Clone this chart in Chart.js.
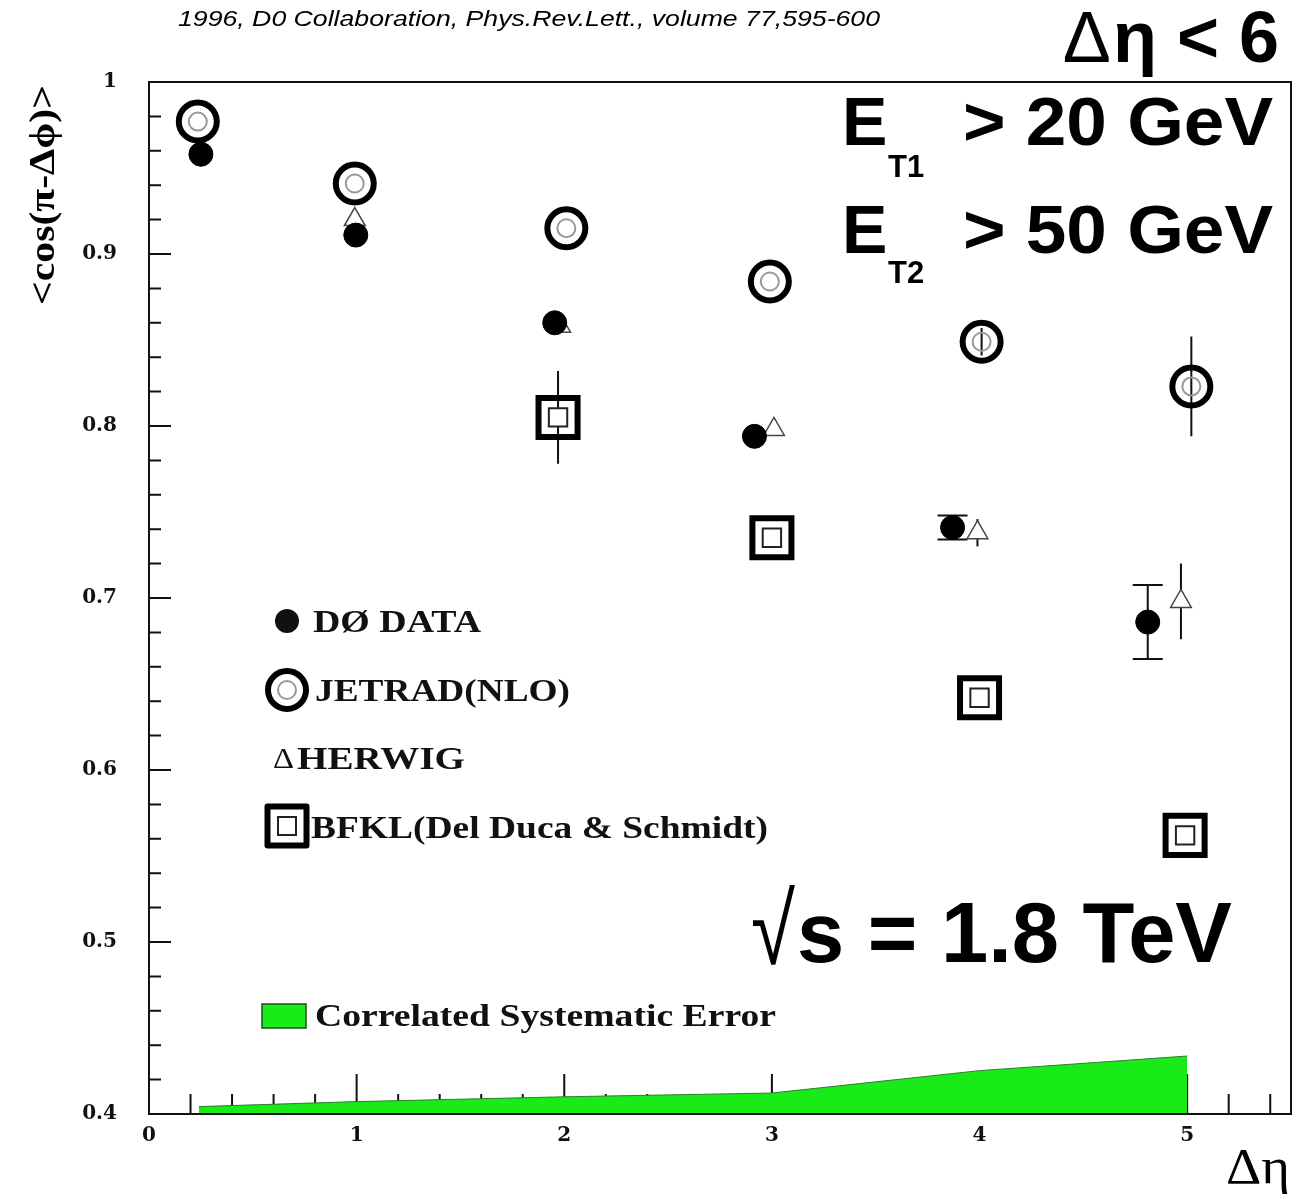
<!DOCTYPE html>
<html>
<head>
<meta charset="utf-8">
<script src="https://cdn.jsdelivr.net/npm/chart.js@4.4.0/dist/chart.umd.min.js"></script>
<style>
html, body { margin: 0; padding: 0; background: #fff; overflow: hidden; }
canvas { display: block; }
</style>
</head>
<body>
<canvas id="cosdphi" width="1304" height="1199"></canvas>
<script>
// D0 data, <cos(pi - dphi)> vs delta eta
const d0X = [0.25, 0.996, 1.954, 2.916, 3.87, 4.81];
const d0Y = [0.958, 0.911, 0.860, 0.794, 0.741, 0.686];
const d0Err = [0, 0, 0, 0, 0.007, 0.0215];

const jetradX = [0.235, 0.991, 2.01, 2.99, 4.01, 5.02];
const jetradY = [0.977, 0.941, 0.915, 0.884, 0.849, 0.823];
const jetradErr = [0, 0, 0, 0, 0.008, 0.029];

const herwigX = [0.991, 1.98, 3.01, 3.99, 4.97];
const herwigY = [0.920, 0.858, 0.798, 0.738, 0.698];
const herwigErr = [0, 0, 0, 0.008, 0.022];

const bfklX = [1.97, 3.0, 4.0, 4.99];
const bfklY = [0.805, 0.735, 0.642, 0.562];
const bfklErr = [0.027, 0, 0, 0];

// correlated systematic error band (drawn up from 0.4)
const sysX = [0.24, 1, 2, 3, 4, 5];
const sysY = [0.4043, 0.4072, 0.410, 0.4122, 0.4252, 0.4337];

const xTicks = [0, 1, 2, 3, 4, 5];
const yTicks = [0.4, 0.5, 0.6, 0.7, 0.8, 0.9, 1];

function steps(a, b, s) {
    const out = [];
    for (let v = a; v <= b + 1e-9; v += s) out.push(+v.toFixed(3));
    return out;
}
const xMinor = steps(0.2, 5.4, 0.2).filter(v => Math.abs(v - Math.round(v)) > 1e-6);
const yMinor = steps(0.42, 0.98, 0.02).filter(v => Math.abs(v * 10 - Math.round(v * 10)) > 1e-6);

const pts = (xs, ys) => xs.map((x, i) => ({ x: x, y: ys[i] }));

function fitText(ctx, txt, left, base, w, font) {
    ctx.save();
    ctx.font = font;
    const m = ctx.measureText(txt).width;
    ctx.translate(left, base);
    ctx.scale(w / m, 1);
    ctx.textAlign = 'left';
    ctx.textBaseline = 'alphabetic';
    ctx.fillText(txt, 0, 0);
    ctx.restore();
}

const innerTicks = {
    id: 'innerTicks',
    beforeDatasetsDraw(chart) {
        const ctx = chart.ctx;
        const xs = chart.scales.x, ys = chart.scales.y;
        const a = chart.chartArea;
        ctx.save();
        ctx.strokeStyle = '#111';
        ctx.lineWidth = 2;
        ctx.beginPath();
        xTicks.forEach(v => { const px = xs.getPixelForValue(v); ctx.moveTo(px, a.bottom); ctx.lineTo(px, a.bottom - 40); });
        xMinor.forEach(v => { const px = xs.getPixelForValue(v); ctx.moveTo(px, a.bottom); ctx.lineTo(px, a.bottom - 20); });
        yTicks.forEach(v => { const py = ys.getPixelForValue(v); ctx.moveTo(a.left, py); ctx.lineTo(a.left + 22, py); });
        yMinor.forEach(v => { const py = ys.getPixelForValue(v); ctx.moveTo(a.left, py); ctx.lineTo(a.left + 12, py); });
        ctx.stroke();

        // error bars
        const bars = (X, Y, E, cap) => {
            X.forEach((x, i) => {
                if (!E[i]) return;
                const px = xs.getPixelForValue(x);
                const p1 = ys.getPixelForValue(Y[i] + E[i]);
                const p2 = ys.getPixelForValue(Y[i] - E[i]);
                ctx.moveTo(px, p1); ctx.lineTo(px, p2);
                if (cap) {
                    ctx.moveTo(px - cap, p1); ctx.lineTo(px + cap, p1);
                    ctx.moveTo(px - cap, p2); ctx.lineTo(px + cap, p2);
                }
            });
        };
        ctx.beginPath();
        ctx.lineWidth = 2;
        bars(d0X, d0Y, d0Err, 15);
        bars(jetradX, jetradY, jetradErr, 0);
        bars(herwigX, herwigY, herwigErr, 0);
        bars(bfklX, bfklY, bfklErr, 0);
        ctx.stroke();
        ctx.restore();
    },
    afterDatasetsDraw(chart) {
        const ctx = chart.ctx, a = chart.chartArea;
        ctx.save();
        ctx.strokeStyle = '#111';
        ctx.lineWidth = 2;
        ctx.strokeRect(a.left, a.top, a.right - a.left, a.bottom - a.top);
        ctx.restore();
    }
};

const annotations = {
    id: 'annotations',
    afterDraw(chart) {
        const ctx = chart.ctx;
        ctx.save();
        ctx.fillStyle = '#000';

        // citation
        fitText(ctx, '1996, D0 Collaboration, Phys.Rev.Lett., volume 77,595-600', 178, 26, 702, 'italic 22px "Liberation Sans"');

        // cut labels
        ctx.textBaseline = 'alphabetic';
        ctx.font = 'bold 72px "Liberation Sans"';
        ctx.textAlign = 'right';
        ctx.fillText('\u03b7 < 6', 1279, 62);
        const w1 = ctx.measureText('\u03b7 < 6').width;
        ctx.font = '72px "Liberation Sans"';
        ctx.fillText('\u0394', 1279 - w1 - 2, 62);

        ctx.textAlign = 'left';
        ctx.font = 'bold 68px "Liberation Sans"';
        ctx.fillText('E', 842, 145);
        ctx.fillText('E', 842, 253);
        ctx.font = 'bold 31px "Liberation Sans"';
        ctx.fillText('T1', 888, 177);
        ctx.fillText('T2', 888, 283);
        fitText(ctx, '> 20 GeV', 963, 145, 310, 'bold 68px "Liberation Sans"');
        fitText(ctx, '> 50 GeV', 963, 253, 310, 'bold 68px "Liberation Sans"');

        // sqrt s
        fitText(ctx, '\u221a', 751, 964, 44, '100px "Liberation Sans"');
        fitText(ctx, 's = 1.8 TeV', 797, 962, 435, 'bold 86px "Liberation Sans"');

        // axis titles
        fitText(ctx, '\u0394\u03b7', 1226, 1183, 64, '50px "Liberation Serif"');
        ctx.save();
        ctx.translate(54, 195);
        ctx.rotate(-Math.PI / 2);
        fitText(ctx, '<cos(\u03c0-\u0394\u03d5)>', -110, 0, 220, 'bold 36px "Liberation Serif"');
        ctx.restore();

        // legend
        const serif = 'bold 32px "Liberation Serif"';
        ctx.fillStyle = '#111';
        ctx.beginPath();
        ctx.arc(287, 621, 12, 0, Math.PI * 2);
        ctx.fill();
        fitText(ctx, 'D\u00d8 DATA', 313, 632, 168, serif);

        ctx.lineWidth = 6; ctx.strokeStyle = '#000';
        ctx.beginPath(); ctx.arc(287, 690, 19, 0, Math.PI * 2); ctx.stroke();
        ctx.lineWidth = 2; ctx.strokeStyle = '#999';
        ctx.beginPath(); ctx.arc(287, 690, 9, 0, Math.PI * 2); ctx.stroke();
        fitText(ctx, 'JETRAD(NLO)', 315, 701, 255, serif);

        fitText(ctx, '\u0394', 273, 768, 21, '30px "Liberation Serif"');
        fitText(ctx, 'HERWIG', 297, 769, 168, serif);

        ctx.lineWidth = 6; ctx.strokeStyle = '#000'; ctx.lineJoin = 'round';
        ctx.strokeRect(267.5, 806.5, 39, 39);
        ctx.lineWidth = 2; ctx.strokeStyle = '#222'; ctx.lineJoin = 'miter';
        ctx.strokeRect(278, 817, 18, 18);
        fitText(ctx, 'BFKL(Del Duca & Schmidt)', 311, 838, 457, serif);

        ctx.fillStyle = 'rgb(25,235,25)';
        ctx.fillRect(262, 1004, 44, 24);
        ctx.lineWidth = 1.5; ctx.strokeStyle = '#1d4d1d';
        ctx.strokeRect(262, 1004, 44, 24);
        ctx.fillStyle = '#111';
        fitText(ctx, 'Correlated Systematic Error', 315, 1026, 461, 'bold 31px "Liberation Serif"');

        ctx.restore();
    }
};

const ctx = document.getElementById('cosdphi').getContext('2d');
const chart = new Chart(ctx, {
    type: 'scatter',
    data: {
        datasets: [
            {
                label: 'JETRAD ring',
                data: pts(jetradX, jetradY),
                pointStyle: 'circle',
                pointRadius: 19,
                pointBorderWidth: 6,
                pointBorderColor: '#000',
                pointBackgroundColor: 'rgba(0,0,0,0)',
                order: 0
            },
            {
                label: 'D\u00d8 DATA',
                data: pts(d0X, d0Y),
                pointStyle: 'circle',
                pointRadius: 12,
                pointBorderWidth: 1,
                pointBorderColor: '#000',
                pointBackgroundColor: '#000',
                order: 1
            },
            {
                label: 'JETRAD(NLO)',
                data: pts(jetradX, jetradY),
                pointStyle: 'circle',
                pointRadius: 9,
                pointBorderWidth: 2,
                pointBorderColor: '#999',
                pointBackgroundColor: 'rgba(0,0,0,0)',
                order: 2
            },
            {
                label: 'HERWIG',
                data: pts(herwigX, herwigY),
                pointStyle: 'triangle',
                pointRadius: 12,
                pointBorderWidth: 1.5,
                pointBorderColor: '#444',
                pointBackgroundColor: '#fff',
                order: 3
            },
            {
                label: 'BFKL frame',
                data: pts(bfklX, bfklY),
                pointStyle: 'rect',
                pointRadius: 27.6,
                pointBorderWidth: 6,
                pointBorderColor: '#000',
                pointBackgroundColor: 'rgba(0,0,0,0)',
                order: 4
            },
            {
                label: 'BFKL(Del Duca & Schmidt)',
                data: pts(bfklX, bfklY),
                pointStyle: 'rect',
                pointRadius: 13,
                pointBorderWidth: 2,
                pointBorderColor: '#222',
                pointBackgroundColor: '#fff',
                order: 5
            },
            {
                type: 'line',
                label: 'Correlated Systematic Error',
                data: pts(sysX, sysY),
                fill: 'start',
                backgroundColor: 'rgb(25,235,25)',
                borderColor: '#2f7a2f',
                borderWidth: 1,
                pointRadius: 0,
                tension: 0,
                order: 10
            }
        ]
    },
    options: {
        responsive: false,
        devicePixelRatio: 1,
        animation: false,
        events: [],
        layout: { autoPadding: false, padding: { top: 82, right: 13, left: 0, bottom: 0 } },
        plugins: {
            legend: { display: false },
            tooltip: { enabled: false }
        },
        scales: {
            x: {
                type: 'linear',
                min: 0,
                max: 5.5,
                afterBuildTicks: s => { s.ticks = xTicks.map(v => ({ value: v })); },
                afterFit: s => { s.height = 85; },
                grid: { display: false, drawTicks: false },
                border: { display: false },
                ticks: {
                    padding: 10,
                    color: '#111',
                    font: { family: 'DejaVu Serif', weight: 'bold', size: 20 },
                    callback: v => String(v)
                }
            },
            y: {
                type: 'linear',
                min: 0.4,
                max: 1.0,
                afterBuildTicks: s => { s.ticks = yTicks.map(v => ({ value: v })); },
                afterFit: s => { s.width = 149; },
                grid: { display: false, drawTicks: false },
                border: { display: false },
                ticks: {
                    padding: 32,
                    color: '#111',
                    font: { family: 'DejaVu Serif', weight: 'bold', size: 20 },
                    callback: v => String(+v.toFixed(1))
                }
            }
        }
    },
    plugins: [innerTicks, annotations]
});
</script>
</body>
</html>
